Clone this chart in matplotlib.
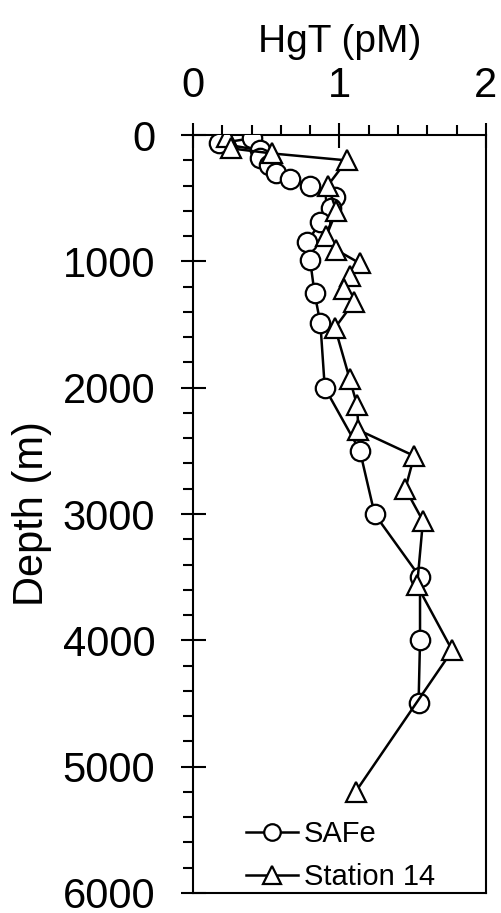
import matplotlib
matplotlib.use("Agg")
import matplotlib.pyplot as plt
from matplotlib.ticker import MultipleLocator

plt.rcParams['font.family'] = ['Liberation Sans', 'DejaVu Sans']

# SAFe profile
safe_hgt = [0.40, 0.18, 0.46, 0.46, 0.52, 0.57, 0.66, 0.80, 0.97, 0.94, 0.87,
            0.78, 0.80, 0.83, 0.87, 0.90, 1.14, 1.24, 1.55, 1.55, 1.54]
safe_depth = [25, 65, 120, 185, 240, 300, 345, 400, 490, 580, 690,
              845, 990, 1250, 1490, 2000, 2500, 3000, 3500, 4000, 4500]

# Station 14 profile
st14_hgt = [0.23, 0.26, 0.54, 1.05, 0.92, 0.98, 0.91, 0.98, 1.14, 1.07, 1.03,
            1.10, 0.97, 1.07, 1.12, 1.13, 1.51, 1.45, 1.57, 1.53, 1.77, 1.11]
st14_depth = [13, 105, 145, 200, 400, 600, 800, 910, 1015, 1115, 1220,
              1320, 1525, 1930, 2135, 2335, 2540, 2800, 3055, 3565, 4080, 5200]

x_ticks = [0, 1, 2]
y_ticks = [0, 1000, 2000, 3000, 4000, 5000, 6000]

fig = plt.figure(figsize=(5.01, 9.13), dpi=100)
ax = fig.add_axes([0.385, 0.022, 0.585, 0.830])

ax.plot(safe_hgt, safe_depth, '-o', color='black', lw=1.8, ms=14,
        mfc='white', mec='black', mew=1.6, label='SAFe', zorder=3)
ax.plot(st14_hgt, st14_depth, '-^', color='black', lw=1.8, ms=15,
        mfc='white', mec='black', mew=1.6, label='Station 14', zorder=3)

ax.set_xlim(0, 2)
ax.set_ylim(6000, 0)
ax.xaxis.set_ticks_position('top')
ax.xaxis.set_label_position('top')
ax.set_xticks(x_ticks)
ax.set_yticks(y_ticks)
ax.xaxis.set_minor_locator(MultipleLocator(0.2))
ax.yaxis.set_minor_locator(MultipleLocator(200))

ax.tick_params(which='major', direction='inout', length=18, width=1.5,
               labelsize=30, pad=12)
ax.tick_params(which='minor', direction='out', length=7, width=1.5)
ax.tick_params(axis='y', which='major', pad=18)

for s in ax.spines.values():
    s.set_linewidth(1.5)

ax.set_xlabel('HgT (pM)', fontsize=28, labelpad=10)
ax.set_ylabel('Depth (m)', fontsize=30, labelpad=8)

ax.legend(loc='lower left', bbox_to_anchor=(0.09, -0.032), frameon=False,
          fontsize=21, handlelength=1.8, handletextpad=0.2, markerscale=0.85,
          labelspacing=0.5)

fig.savefig('out.png', dpi=100)
